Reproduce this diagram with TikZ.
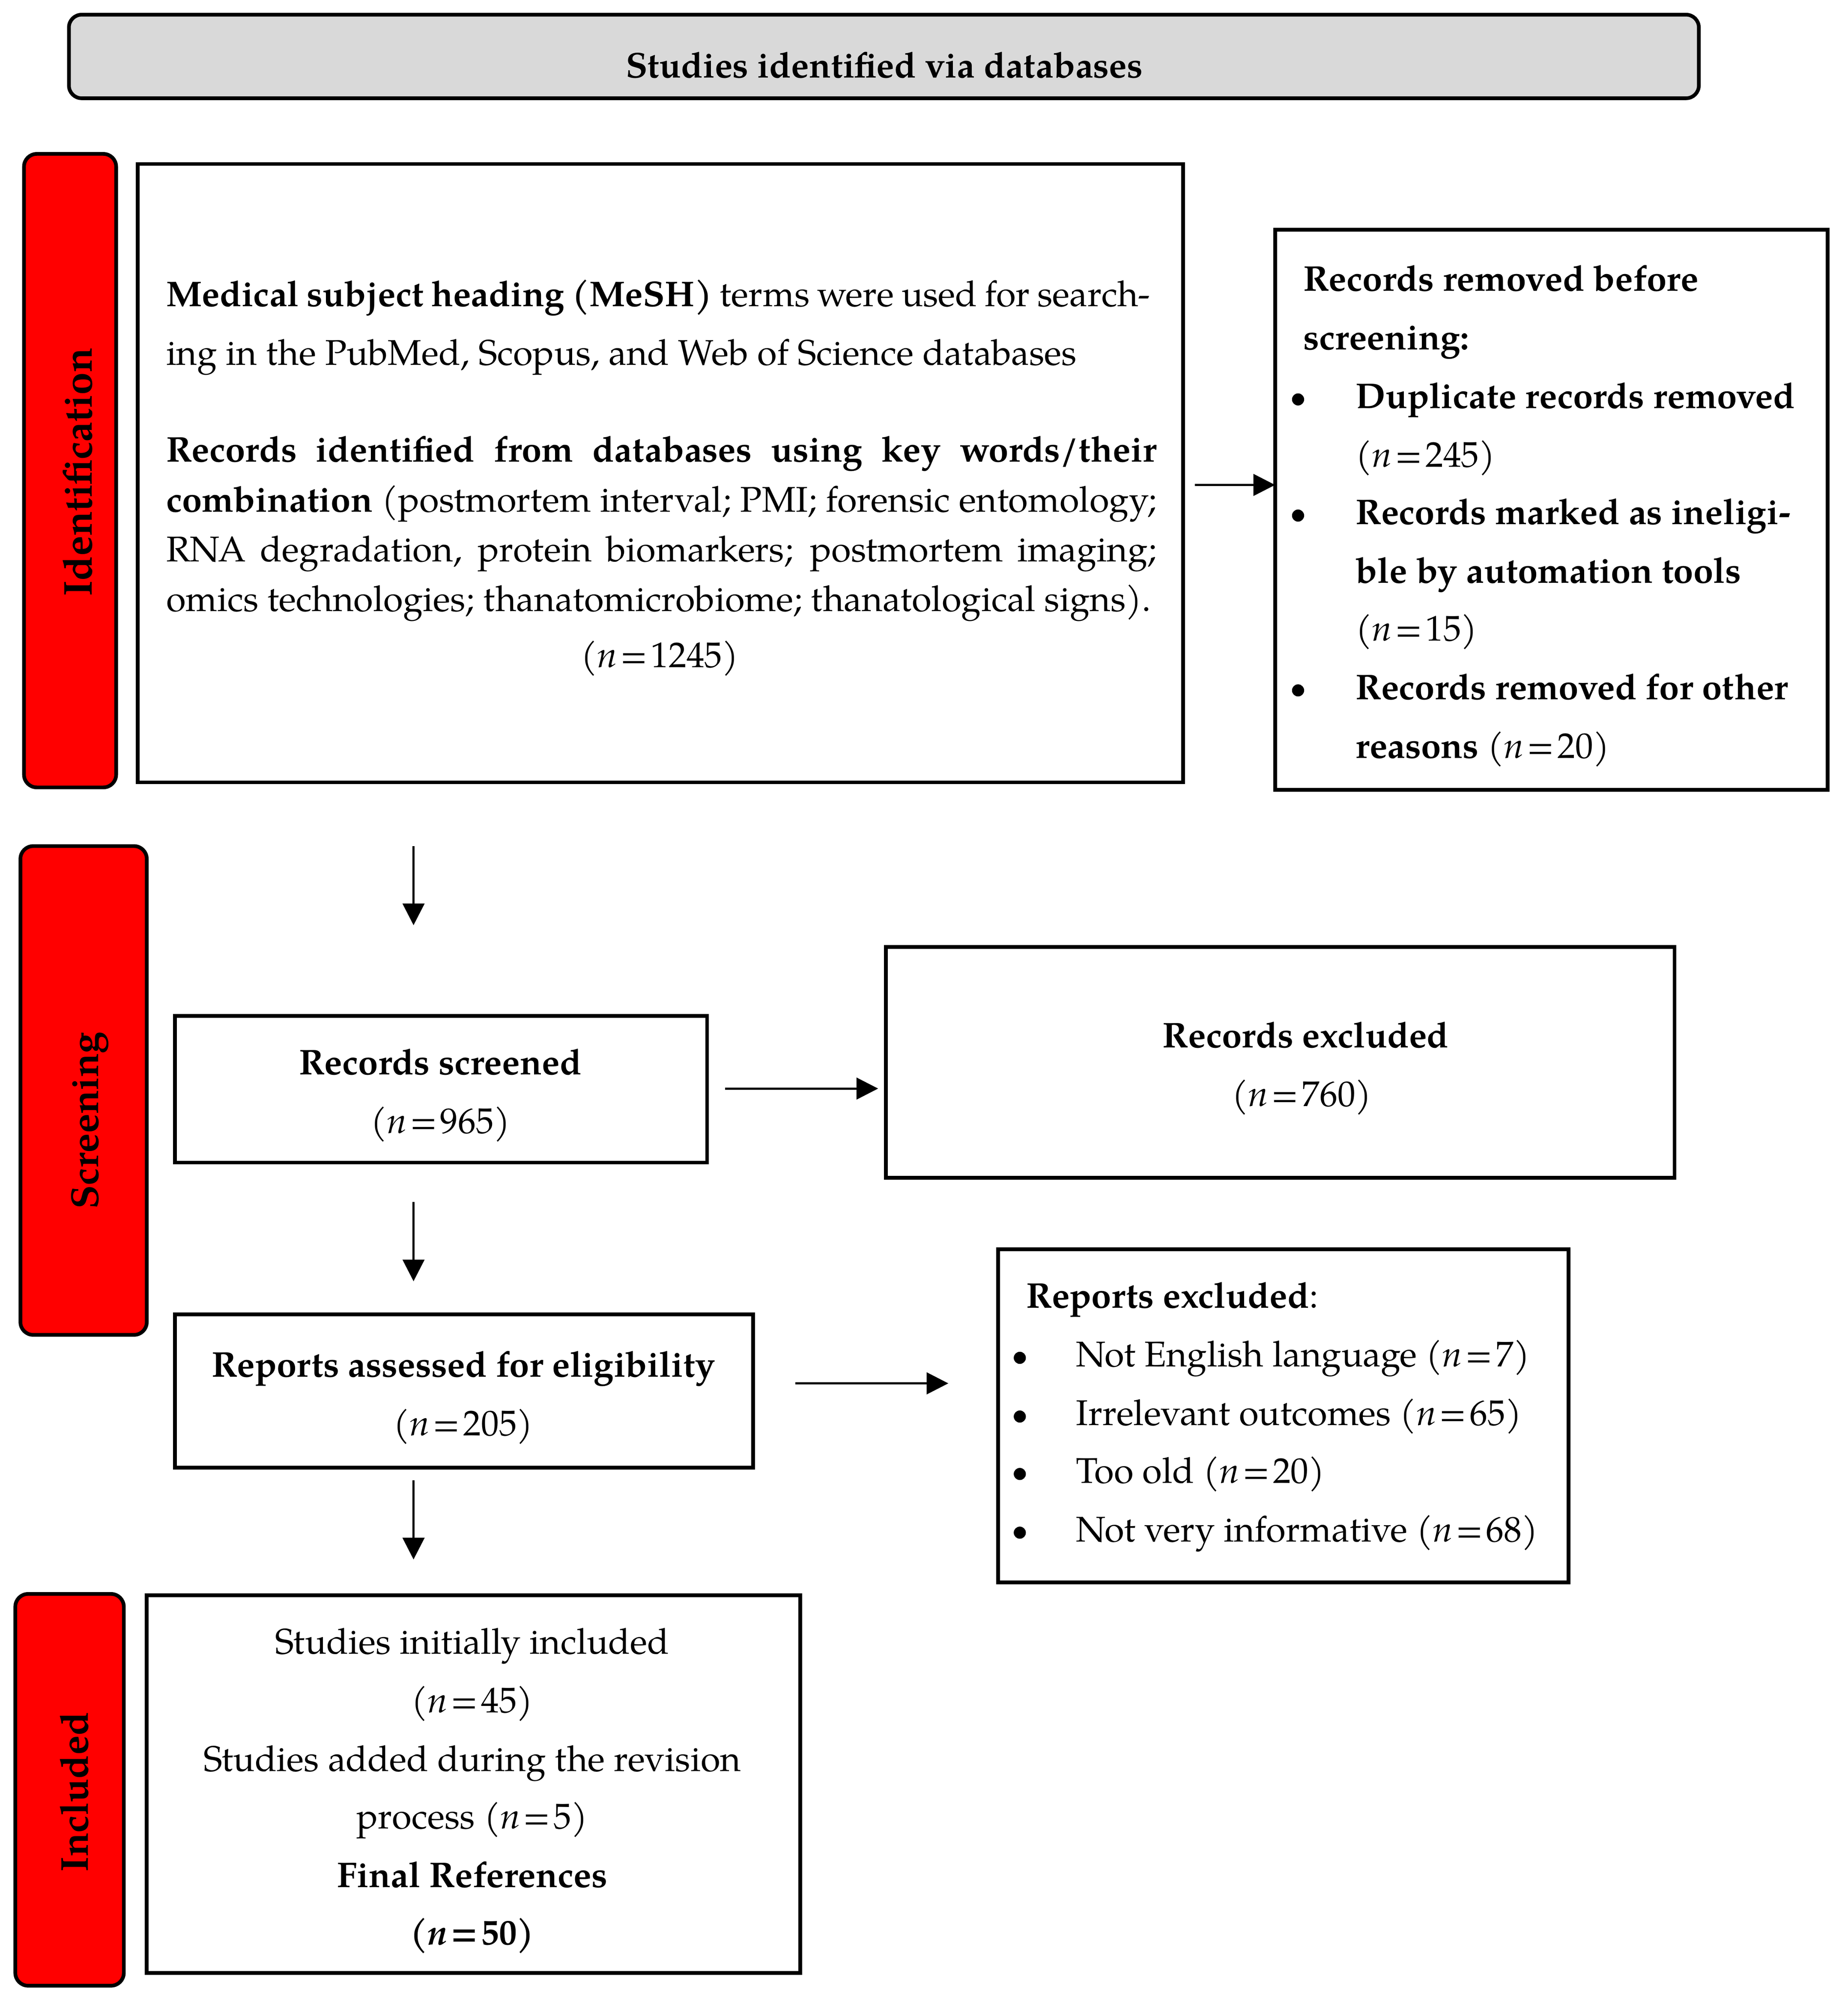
\documentclass[tikz,border=0pt]{standalone}
\usepackage{fontspec}
\setmainfont{TeX Gyre Pagella}
\usetikzlibrary{arrows.meta}
\definecolor{hdrgray}{HTML}{D9D9D9}
\definecolor{tabred}{HTML}{FF0000}
\newcommand\fsA{\fontsize{28}{32}\selectfont}
\newcommand\fsT{\fontsize{30.5}{34}\selectfont}
\newcommand\fsTT{\fontsize{31.6}{35}\selectfont}
\newcommand\eqsp{\hspace{0.09em}}
\newcommand\nn[1]{(\textit{n}\eqsp=\eqsp#1)}
\newcommand\bnn[1]{(\textbf{\textit{n}}\eqsp=\eqsp#1)}
\begin{document}
\begin{tikzpicture}[x=1pt,y=-1pt,
 frame/.style={draw, line width=2.9pt, inner sep=0pt, outer sep=0pt, anchor=north west},
 tabbox/.style={frame, fill=tabred, rounded corners=10pt},
 hdrbox/.style={frame, fill=hdrgray, rounded corners=10pt},
 tl/.style={anchor=base west, inner sep=0pt, font=\fsA},
 tc/.style={anchor=base, inner sep=0pt, font=\fsA},
 tablabel/.style={rotate=90, anchor=base, inner sep=0pt, font=\fsT\bfseries},
 bul/.style={circle, fill, inner sep=0pt, minimum size=9.5pt},
 arr/.style={line width=1.6pt, -{Triangle[length=17pt,width=17pt]}}]

\useasboundingbox (0,0) rectangle (1447.6,1568);

% boxes
\node[hdrbox, minimum width=1277pt, minimum height=65.5pt] (hdr) at (54,11.5) {};
\node[tabbox, minimum width=72.2pt, minimum height=496.4pt] (idtab) at (18.8,120.6) {};
\node[tabbox, minimum width=99pt, minimum height=383pt] (sctab) at (16,663) {};
\node[tabbox, minimum width=85pt, minimum height=307pt] (intab) at (12,1249) {};
\node[frame, minimum width=819.2pt, minimum height=484.5pt] (idbox) at (107.8,128.5) {};
\node[frame, minimum width=433pt, minimum height=439pt] (rembox) at (999,180) {};
\node[frame, minimum width=417pt, minimum height=115pt] (scrbox) at (137,796) {};
\node[frame, minimum width=618pt, minimum height=181pt] (exbox) at (694,742) {};
\node[frame, minimum width=453pt, minimum height=120pt] (repbox) at (137,1030) {};
\node[frame, minimum width=447pt, minimum height=261pt] (repex) at (782,979) {};
\node[frame, minimum width=512pt, minimum height=296pt] (inbox) at (115,1250) {};

% tab labels
\node[tablabel, font=\fsTT\bfseries] (idlab) at (72,370) {Identification};
\node[tablabel] (sclab) at (77,878) {Screening};
\node[tablabel] (inlab) at (69,1404) {Included};

\begin{scope}[shift={(0,2)}]
\node[tc, font=\fsA\bfseries] (hdrtxt) at (693,59) {Studies identified via databases};

% identification box text
\node[tl] (i1) at (130,238) {\makebox[771pt][s]{\textbf{Medical subject heading (MeSH)} terms were used for search-}};
\node[tl] (i2) at (130,284) {ing in the PubMed, Scopus, and Web of Science databases};
\node[tl] (i3) at (130,360) {\makebox[776pt][s]{\textbf{Records identified from databases using key words/their}}};
\node[tl] (i4) at (130,399) {\makebox[776pt][s]{\textbf{combination} (postmortem interval; PMI; forensic entomology;}};
\node[tl] (i5) at (130,438) {\makebox[776pt][s]{RNA degradation, protein biomarkers; postmortem imaging;}};
\node[tl] (i6) at (130,477) {omics technologies; thanatomicrobiome; thanatological signs).};
\node[tc] (i7) at (517,521) {\nn{1245}};

% records removed text
\node[tl, font=\fsA\bfseries] (r1) at (1021,226) {Records removed before};
\node[tl, font=\fsA\bfseries] (r2) at (1021,272) {screening:};
\node[bul] (rb1) at (1017,311) {};
\node[tl, font=\fsA\bfseries] (r3) at (1062,318) {Duplicate records removed};
\node[tl] (r4) at (1062,364) {\nn{245}};
\node[bul] (rb2) at (1017,402) {};
\node[tl, font=\fsA\bfseries] (r5) at (1062,409) {Records marked as ineligi-};
\node[tl, font=\fsA\bfseries] (r6) at (1062,455) {ble by automation tools};
\node[tl] (r7) at (1062,500) {\nn{15}};
\node[bul] (rb3) at (1017,539) {};
\node[tl] (r8) at (1062,546) {\textbf{Records removed for other}};
\node[tl] (r9) at (1062,592) {\textbf{reasons} \nn{20}};

% screening text
\node[tc, font=\fsA\bfseries] (s1) at (345,840) {Records screened};
\node[tc] (s2) at (345,886) {\nn{965}};
\node[tc, font=\fsA\bfseries] (e1) at (1023,819) {Records excluded};
\node[tc] (e2) at (1020,865) {\nn{760}};
\node[tc, font=\fsA\bfseries] (p1) at (363,1077) {Reports assessed for eligibility};
\node[tc] (p2) at (363,1123) {\nn{205}};

\node[tl] (x0) at (804,1023) {\textbf{Reports excluded}:};
\node[bul] (xb1) at (799,1062) {};
\node[tl] (x1) at (843,1069) {Not English language \nn{7}};
\node[bul] (xb2) at (799,1108) {};
\node[tl] (x2) at (843,1115) {Irrelevant outcomes \nn{65}};
\node[bul] (xb3) at (799,1153) {};
\node[tl] (x3) at (843,1160) {Too old \nn{20}};
\node[bul] (xb4) at (799,1199) {};
\node[tl] (x4) at (843,1206) {Not very informative \nn{68}};

% included text
\node[tc] (n1) at (370,1294) {Studies initially included};
\node[tc] (n2) at (370,1340) {\nn{45}};
\node[tc] (n3) at (370,1386) {Studies added during the revision};
\node[tc] (n4) at (370,1431) {process \nn{5}};
\node[tc, font=\fsA\bfseries] (n5) at (370,1477) {Final References};
\node[tc, font=\fsA\bfseries] (n6) at (370,1522) {\bnn{50}};
\end{scope}

% connectors
\coordinate (c1) at (936,380);
\draw[arr] (c1) -- (c1 -| rembox.west);
\coordinate (c2a) at (324,663);
\coordinate (c2b) at (324,725);
\draw[arr] (c2a) -- (c2b);
\coordinate (c3a) at (568,853);
\coordinate (c3b) at (688,853);
\draw[arr] (c3a) -- (c3b);
\coordinate (c4a) at (324,942);
\coordinate (c4b) at (324,1004);
\draw[arr] (c4a) -- (c4b);
\coordinate (c5a) at (623,1084);
\coordinate (c5b) at (743,1084);
\draw[arr] (c5a) -- (c5b);
\coordinate (c6a) at (324,1160);
\coordinate (c6b) at (324,1222);
\draw[arr] (c6a) -- (c6b);
\end{tikzpicture}
\end{document}
